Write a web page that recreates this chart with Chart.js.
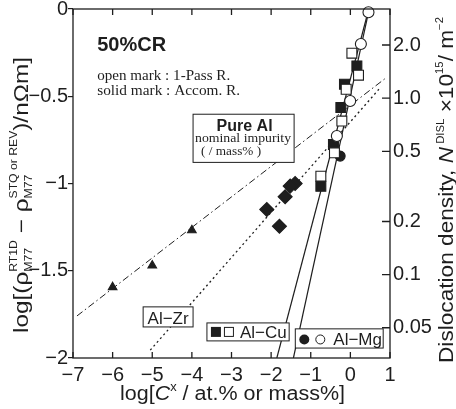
<!DOCTYPE html>
<html>
<head>
<meta charset="utf-8">
<script src="https://cdn.jsdelivr.net/npm/chart.js@4"></script>
<style>
  html, body { margin:0; padding:0; background:#fff; }
  #wrap { width:456px; height:409px; }
</style>
</head>
<body>
<div id="wrap"><canvas id="chart" width="456" height="409"></canvas></div>
<script>
// ----- data -----
const xTicks = [-7, -6, -5, -4, -3, -2, -1, 0, 1];
const yTicks = [0, -0.5, -1, -1.5, -2];
const nTicks = [2, 1, 0.5, 0.2, 0.1, 0.05];
const nTickLabels = ["2.0", "1.0", "0.5", "0.2", "0.1", "0.05"];

// triangles
const triX = [-6, -5, -4];
const triY = [-1.594, -1.47, -1.268];
// diamonds (solid)
const diaX = [-1.394, -1.52, -1.646, -2.109, -1.79];
const diaY = [-1.0, -1.015, -1.076, -1.149, -1.245];
// Al-Cu squares
const cuOpenX = [0.038, 0.205, -0.106, -0.215, -0.402, -0.745];
const cuOpenY = [-0.253, -0.379, -0.46, -0.642, -0.824, -0.958];
const cuSolidX = [0.164, -0.149, -0.24, -0.427, -0.745];
const cuSolidY = [-0.326, -0.431, -0.565, -0.776, -1.016];
// Al-Mg circles
const mgOpenX = [0.457, 0.265, -0.005, -0.341];
const mgOpenY = [-0.019, -0.201, -0.527, -0.728];
const mgSolidX = [-0.258];
const mgSolidY = [-0.843];

// fitted lines (end points)
const triLineX = [-6.9, 0.92];
const triLineY = [-1.759, -0.391];
const diaLineX = [-5.05, 0.72];
const diaLineY = [-1.955, -0.46];
const cuLineX = [-1.856, 0.43];
const cuLineY = [-2.0, -0.03];
const mgLineX = [-1.437, 0.457];
const mgLineY = [-2.0, -0.019];

const ink = "#1e1e1e";
const SANS = '"Liberation Sans", Arial, sans-serif';
const SERIF = '"Liberation Serif", "Times New Roman", serif';
Chart.defaults.font.family = SANS;
Chart.defaults.color = ink;

const pts = (xs, ys) => xs.map((v, i) => ({ x: v, y: ys[i] }));
const minus = v => (v < 0 ? "\u2212" + String(-v) : String(v));

// ----- text helpers -----
function fontOf(it){
  return `${it.italic ? "italic " : ""}${it.bold ? "bold " : ""}${it.size || 20}px ${it.family || SANS}`;
}
// draws a run of parts centred on x, squeezed/stretched to the given width
function rich(ctx, parts, x, y, target){
  const widths = parts.map(p => {
    const items = p.stack || [p];
    return Math.max(...items.map(it => { ctx.font = fontOf(it); return ctx.measureText(it.t).width; }));
  });
  const total = widths.reduce((a, b) => a + b, 0);
  const w = target || total;
  ctx.save();
  ctx.translate(x - w / 2, y);
  ctx.scale(w / total, 1);
  let cx = 0;
  parts.forEach((p, i) => {
    (p.stack || [p]).forEach(it => {
      ctx.font = fontOf(it);
      ctx.fillText(it.t, cx, it.dy || 0);
    });
    cx += widths[i];
  });
  ctx.restore();
}
function fitText(ctx, text, x, y, target){
  const w = ctx.measureText(text).width;
  ctx.save();
  ctx.translate(x, y);
  ctx.scale(target / w, 1);
  ctx.textAlign = "left";
  ctx.fillText(text, 0, 0);
  ctx.restore();
}

const leftTitle = [
  { t: "log[(", size: 20 }, { t: "\u03c1", size: 20 },
  { stack: [{ t: "RT1D", size: 10, dy: -11 }, { t: "M77", size: 10, dy: 4 }] },
  { t: " \u2212 \u03c1", size: 20 },
  { stack: [{ t: "STQ or REV", size: 10, dy: -11 }, { t: "M77", size: 10, dy: 4 }] },
  { t: ")/n\u03a9m]", size: 20 }
];
const rightTitle = [
  { t: "Dislocation density, ", size: 20 }, { t: "N", size: 20, italic: true },
  { t: " DISL", size: 10, dy: -9 }, { t: " \u00d710", size: 20 },
  { t: "15", size: 10, dy: -10 }, { t: "/ m", size: 20 }, { t: "\u22122", size: 10, dy: -10 }
];
const bottomTitle = [
  { t: "log[", size: 20 }, { t: "C", size: 20, italic: true },
  { t: "x", size: 12, dy: -9 }, { t: " / at.% or mass%]", size: 20 }
];

// ----- frame, inner ticks, labels -----
const decor = {
  id: "decor",
  afterDatasetsDraw(chart){
    const { ctx, chartArea: a, scales: { x, y, y2 } } = chart;
    const P = (xv, yv) => [x.getPixelForValue(xv), y.getPixelForValue(yv)];
    ctx.save();
    ctx.strokeStyle = ink;
    ctx.fillStyle = ink;
    ctx.lineWidth = 1.3;
    ctx.strokeRect(a.left, a.top, a.right - a.left, a.bottom - a.top);

    ctx.beginPath();
    xTicks.forEach(v => {
      const px = x.getPixelForValue(v);
      ctx.moveTo(px, a.bottom); ctx.lineTo(px, a.bottom - 6);
      ctx.moveTo(px, a.top); ctx.lineTo(px, a.top + 6);
    });
    nTicks.forEach(v => {
      const py = y2.getPixelForValue(v);
      ctx.moveTo(a.right, py); ctx.lineTo(a.right - 8, py);
    });
    ctx.stroke();

    // boxes
    function box(x0, y0, x1, y1){
      const [l, t] = P(x0, y0), [r, b] = P(x1, y1);
      ctx.fillStyle = "#fff";
      ctx.fillRect(l, t, r - l, b - t);
      ctx.lineWidth = 1;
      ctx.strokeRect(l, t, r - l, b - t);
      ctx.fillStyle = ink;
      return [l, t, r, b];
    }
    ctx.textBaseline = "alphabetic";

    // Pure Al
    let [l, t, r, b] = box(-3.97, -0.603, -1.42, -0.879);
    ctx.textAlign = "center";
    ctx.font = `bold 16px ${SANS}`;
    ctx.fillText("Pure Al", (l + r) / 2 + 1, t + 17);
    ctx.font = `13px ${SERIF}`;
    fitText(ctx, "nominal impurity", l + 2, t + 28, 96);
    fitText(ctx, "( / mass% )", l + 8, t + 41, 60);

    // Al-Zr
    [l, t, r, b] = box(-5.23, -1.707, -3.97, -1.822);
    ctx.textAlign = "center";
    ctx.font = `17px ${SANS}`;
    ctx.fillText("Al\u2212Zr", (l + r) / 2, b - 3);

    // Al-Cu
    [l, t, r, b] = box(-3.62, -1.799, -1.545, -1.902);
    let cy = (t + b) / 2;
    ctx.fillRect(l + 4, cy - 5, 10, 10);
    ctx.lineWidth = 1;
    ctx.strokeRect(l + 17.5, cy - 4.5, 9, 9);
    ctx.textAlign = "left";
    ctx.fillText("Al\u2212Cu", l + 33, b - 3);

    // Al-Mg
    [l, t, r, b] = box(-1.39, -1.833, 0.828, -1.943);
    cy = (t + b) / 2 + 1;
    ctx.beginPath(); ctx.arc(l + 9, cy, 5, 0, Math.PI * 2); ctx.fill();
    ctx.beginPath(); ctx.arc(l + 25, cy, 4.5, 0, Math.PI * 2); ctx.stroke();
    ctx.fillText("Al\u2212Mg", l + 38, b - 3);

    // header notes
    ctx.font = `bold 20px ${SANS}`;
    let [tx, ty] = P(-6.39, -0.241);
    ctx.fillText("50%CR", tx, ty);
    ctx.font = `15px ${SERIF}`;
    [tx, ty] = P(-6.39, -0.405);
    fitText(ctx, "open mark : 1-Pass R.", tx, ty, 133);
    [tx, ty] = P(-6.39, -0.495);
    fitText(ctx, "solid mark : Accom. R.", tx, ty, 143);
    ctx.restore();
  },
  afterDraw(chart){
    const { ctx, chartArea: a } = chart;
    ctx.save();
    ctx.fillStyle = ink;
    ctx.textAlign = "left";
    ctx.textBaseline = "alphabetic";
    rich(ctx, bottomTitle, 232.5, 400, 225);
    ctx.translate(28, 195);
    ctx.rotate(-Math.PI / 2);
    rich(ctx, leftTitle, 0, 0, 276);
    ctx.restore();
    ctx.save();
    ctx.fillStyle = ink;
    ctx.textBaseline = "alphabetic";
    ctx.translate(453, 190);
    ctx.rotate(-Math.PI / 2);
    rich(ctx, rightTitle, 0, 0, 346);
    ctx.restore();
  }
};

// ----- chart -----
const lineSet = (xs, ys, dash, width) => ({
  data: pts(xs, ys), showLine: true, pointRadius: 0, borderColor: ink,
  borderWidth: width, borderDash: dash, order: 10
});
const markSet = (xs, ys, style, r, fill, order) => ({
  data: pts(xs, ys), showLine: false, pointStyle: style, pointRadius: r,
  backgroundColor: fill, borderColor: ink, borderWidth: 1.1, order, clip: false
});

new Chart(document.getElementById("chart"), {
  type: "scatter",
  data: {
    datasets: [
      lineSet(triLineX, triLineY, [7, 3, 1.5, 3], 1),
      lineSet(diaLineX, diaLineY, [2, 3], 1.3),
      lineSet(cuLineX, cuLineY, [], 1.2),
      lineSet(mgLineX, mgLineY, [], 1.2),
      markSet(triX, triY, "triangle", 5, ink, 2),
      markSet(diaX, diaY, "rectRot", 7, ink, 2),
      markSet(mgSolidX, mgSolidY, "circle", 5, ink, 4),
      markSet(cuSolidX, cuSolidY, "rect", 7, ink, 3),
      markSet(cuOpenX, cuOpenY, "rect", 7, "#fff", 1),
      markSet(mgOpenX, mgOpenY, "circle", 5.5, "#fff", 1)
    ]
  },
  options: {
    responsive: false,
    animation: false,
    layout: { padding: { top: 9, left: 0, right: 0, bottom: 0 } },
    plugins: { legend: { display: false }, tooltip: { enabled: false } },
    scales: {
      x: {
        type: "linear", min: -7, max: 1,
        afterBuildTicks: s => { s.ticks = xTicks.map(v => ({ value: v })); },
        afterFit: s => { s.height = 51; s.paddingLeft = 0; s.paddingRight = 0; },
        ticks: { callback: v => minus(v), font: { size: 20 }, color: ink, padding: 5, maxRotation: 0 },
        grid: { display: false, drawTicks: false },
        border: { display: false }
      },
      y: {
        type: "linear", position: "left", min: -2, max: 0,
        afterBuildTicks: s => { s.ticks = yTicks.map(v => ({ value: v })); },
        afterFit: s => { s.width = 73; s.paddingTop = 0; s.paddingBottom = 0; },
        ticks: { callback: v => minus(v), font: { size: 20 }, color: ink, padding: 0 },
        grid: { drawOnChartArea: false, drawTicks: true, tickLength: 5, color: ink, lineWidth: 1.2 },
        border: { display: false }
      },
      y2: {
        type: "logarithmic", position: "right", min: 0.0337, max: 3.2,
        afterBuildTicks: s => { s.ticks = nTicks.map(v => ({ value: v })); },
        afterFit: s => { s.width = 66; s.paddingTop = 0; s.paddingBottom = 0; },
        ticks: { callback: v => nTickLabels[nTicks.indexOf(v)], font: { size: 20 }, color: ink, padding: 3 },
        grid: { display: false, drawTicks: false },
        border: { display: false }
      }
    }
  },
  plugins: [decor]
});
</script>
</body>
</html>
